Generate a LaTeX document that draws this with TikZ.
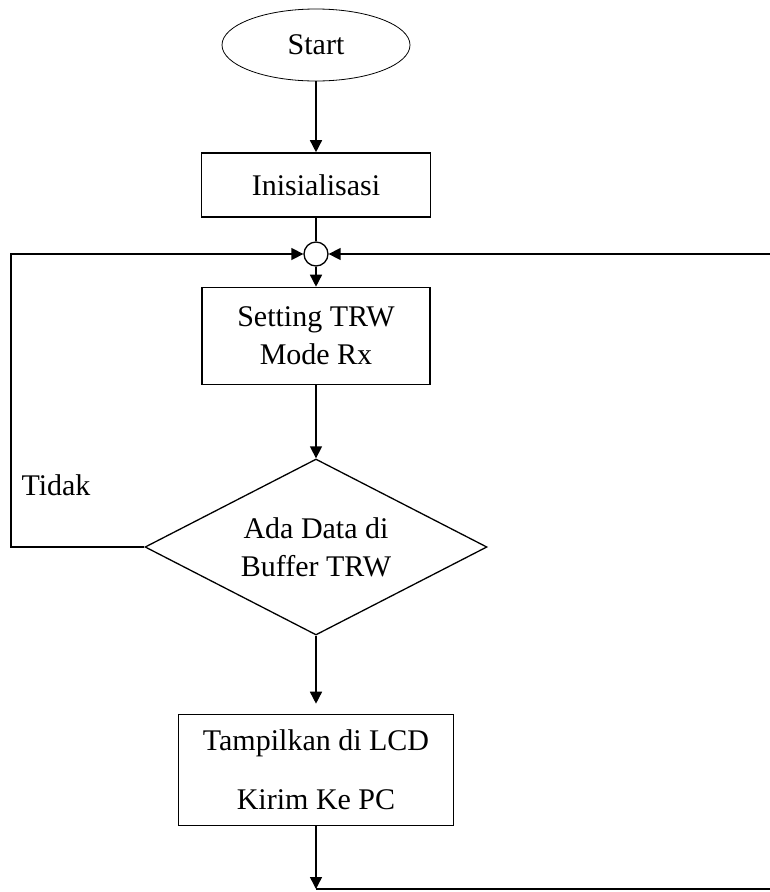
\documentclass[tikz,border=0pt]{standalone}
\usepackage{fontspec}
\setmainfont{Liberation Serif}
\usetikzlibrary{shapes.geometric,arrows.meta}
\tikzset{tm/.style = {ellipse, thick, minimum width=188pt, minimum height=72pt, inner sep=0pt, draw},
           pr/.style = {rectangle, line width=1.6pt, inner sep=0pt, align=center, draw},
           dc/.style = {diamond, line width=1.3pt, aspect=2, minimum width=342pt, minimum height=176pt, inner sep=0pt, align=center, draw},
           jn/.style = {circle, line width=1.3pt, minimum size=24pt, inner sep=0pt, draw}}

\begin{document}
\begin{tikzpicture}[x=1pt, y=-1pt, line width=1.5pt, >={Triangle[length=12pt,width=12pt]},
    font=\fontsize{30}{38}\selectfont]
    \clip (0,0) rectangle (770,892);
    \node[tm] (start) at (316,45) {Start};
    \node[pr, minimum width=229pt, minimum height=64pt] (init) at (316,185) {Inisialisasi};
    \node[jn] (join) at (316,254) {};
    \node[pr, minimum width=228pt, minimum height=97pt] (setrx) at (316,336) {Setting TRW\\Mode Rx};
    \node[dc] (cek) at (316,547) {Ada Data di\\Buffer TRW};
    \node[pr, minimum width=275pt, minimum height=111pt] (tampil) at (316,770) {Tampilkan di LCD\\[21pt]Kirim Ke PC};
    \node (tidak) at (56,485) {Tidak};
    \coordinate (bot) at (316,889);
    \coordinate (botR) at (782,889);
    \coordinate (topR) at (782,254);
    \coordinate (lftB) at (11,547);
    \coordinate (lftT) at (11,254);
    \draw[->] (start) -- (init);
    \draw     (init) -- (join);
    \draw[->] (join) -- (setrx);
    \draw[->] (setrx) -- (cek);
    \draw[->, shorten >=10pt] (cek) -- (tampil);
    \draw[->] (tampil) -- (bot);
    \draw[->] (cek.west) -- (lftB) -- (lftT) -- (join);
    \draw[->] (bot) -- (botR) -- (topR) -- (join);
\end{tikzpicture}
\end{document}
